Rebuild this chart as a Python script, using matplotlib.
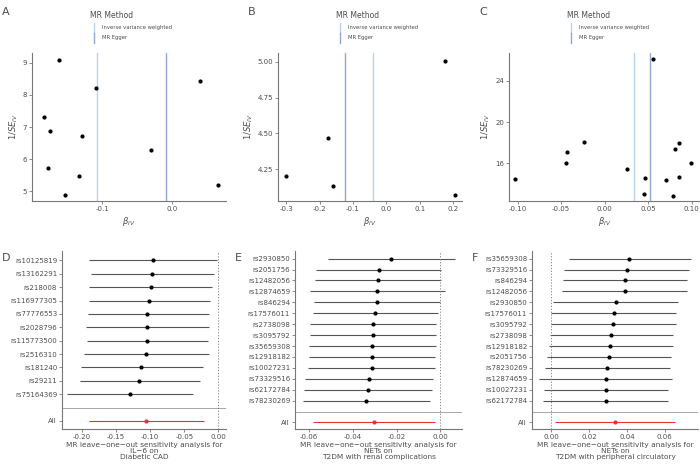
import matplotlib.pyplot as plt
from matplotlib.lines import Line2D

# ---- funnel plots (beta_IV, 1/SE_IV) ----
a_beta = [-0.162, -0.108, -0.183, -0.175, -0.128, -0.177, -0.133, -0.153, -0.030, 0.040, 0.065]
a_prec = [9.10, 8.22, 7.30, 6.87, 6.72, 5.72, 5.48, 4.88, 6.28, 8.45, 5.18]
a_ivw, a_egger = -0.107, -0.008

b_beta = [-0.300, -0.175, -0.160, 0.175, 0.205]
b_prec = [4.20, 4.47, 4.13, 5.01, 4.07]
b_ivw, b_egger = -0.040, -0.125

c_beta = [-0.103, -0.045, -0.043, -0.024, 0.026, 0.045, 0.046, 0.055, 0.071, 0.078, 0.081, 0.085, 0.085, 0.099]
c_prec = [14.5, 16.0, 17.1, 18.1, 15.5, 13.0, 14.6, 26.1, 14.4, 12.8, 17.4, 18.0, 14.7, 16.0]
c_ivw, c_egger = 0.034, 0.052

# ---- leave-one-out (top to bottom), last tuple = All ----
d_snps = ['rs10125819', 'rs13162291', 'rs218008', 'rs116977305', 'rs77776553', 'rs2028796',
          'rs115773500', 'rs2516310', 'rs181240', 'rs29211', 'rs75164369']
d_est = [-0.0956, -0.0976, -0.099, -0.102, -0.1044, -0.1044, -0.105, -0.1063, -0.113, -0.116, -0.129]
d_lo = [-0.189, -0.187, -0.189, -0.190, -0.191, -0.194, -0.192, -0.197, -0.201, -0.203, -0.221]
d_hi = [-0.0015, -0.0063, -0.0098, -0.012, -0.0146, -0.0137, -0.015, -0.014, -0.023, -0.027, -0.0366]
d_all = (-0.1063, -0.190, -0.0205)

e_snps = ['rs2930850', 'rs2051756', 'rs12482056', 'rs12874659', 'rs846294', 'rs17576011', 'rs2738098',
          'rs3095792', 'rs35659308', 'rs12918182', 'rs10027231', 'rs73329516', 'rs62172784', 'rs78230269']
e_est = [-0.0224, -0.0282, -0.0283, -0.0288, -0.0291, -0.0299, -0.0308, -0.0308, -0.0312, -0.0314,
         -0.0314, -0.0326, -0.0332, -0.034]
e_lo = [-0.0513, -0.057, -0.0574, -0.0597, -0.0579, -0.0583, -0.0594, -0.0597, -0.060, -0.0602,
        -0.0605, -0.0617, -0.0624, -0.0629]
e_hi = [0.0067, 0.0005, 0.0005, 0.0021, 0.0, -0.0012, -0.0018, -0.0018, -0.0021, -0.0023,
        -0.0023, -0.0035, -0.0038, -0.0046]
e_all = (-0.0302, -0.0582, -0.0023)

f_snps = ['rs35659308', 'rs73329516', 'rs846294', 'rs12482056', 'rs2930850', 'rs17576011', 'rs3095792',
          'rs2738098', 'rs12918182', 'rs2051756', 'rs78230269', 'rs12874659', 'rs10027231', 'rs62172784']
f_est = [0.0413, 0.0399, 0.039, 0.0388, 0.0341, 0.0331, 0.0329, 0.0315, 0.0313, 0.0306, 0.0296,
         0.029, 0.029, 0.0289]
f_lo = [0.0093, 0.007, 0.0063, 0.0059, 0.0009, 0.0002, -0.0002, -0.0007, -0.0012, -0.0023, -0.0033,
        -0.0061, -0.0038, -0.0042]
f_hi = [0.074, 0.0728, 0.0719, 0.0719, 0.067, 0.066, 0.066, 0.0642, 0.0642, 0.0633, 0.0628,
        0.064, 0.0619, 0.0619]
f_all = (0.0336, 0.0019, 0.0652)

GREY = '#4d4d4d'
IVW_C = '#b9d3ea'
EGG_C = '#8fa9d6'
W, H = 700, 466

fig = plt.figure(figsize=(7, 4.66), dpi=100)


def px_axes(x0, y0, x1, y1):
    return fig.add_axes([x0 / W, 1 - y1 / H, (x1 - x0) / W, (y1 - y0) / H])


def style(ax):
    for s in ['top', 'right']:
        ax.spines[s].set_visible(False)
    for s in ['left', 'bottom']:
        ax.spines[s].set_color('#777777')
        ax.spines[s].set_linewidth(0.8)
    ax.tick_params(labelsize=5, colors='#777777', labelcolor=GREY, length=2, width=0.6, pad=1.5)


def funnel(x0, x1, beta, prec, ivw, egger, xlim, ylim, yticks, ylabels, xticks, xlabels, label):
    ax = px_axes(x0, 53, x1, 201)
    style(ax)
    ax.axvline(ivw, color=IVW_C, lw=1)
    ax.axvline(egger, color=EGG_C, lw=1)
    ax.scatter(beta, prec, s=4, color='black', zorder=3)
    ax.set_xlim(*xlim)
    ax.set_ylim(*ylim)
    ax.set_yticks(yticks)
    ax.set_yticklabels(ylabels)
    ax.set_xticks(xticks)
    ax.set_xticklabels(xlabels)
    ax.set_xlabel(r'$\beta_{IV}$', fontsize=6, color=GREY, labelpad=2)
    ax.set_ylabel(r'$1/SE_{IV}$', fontsize=6, color=GREY, labelpad=2)
    # legend drawn above the panel
    lx = x0 + 58
    fig.text(lx / W, 1 - 16 / H, 'MR Method', fontsize=5.5, color=GREY, va='center')
    lx2 = lx + 4
    for yy, txt, col in [(28, 'Inverse variance weighted', IVW_C), (38, 'MR Egger', EGG_C)]:
        fig.add_artist(Line2D([lx2 / W, lx2 / W], [1 - (yy - 5) / H, 1 - (yy + 5) / H], color=col, lw=1))
        fig.text((lx2 + 8) / W, 1 - yy / H, txt, fontsize=3.8, color=GREY, va='center')
    fig.text((x0 - 30) / W, 1 - 12 / H, label, fontsize=8, color=GREY, va='center')
    return ax


funnel(32, 226, a_beta, a_prec, a_ivw, a_egger, (-0.2, 0.077), (4.69, 9.31),
       [5, 6, 7, 8, 9], ['5', '6', '7', '8', '9'], [-0.1, 0.0], ['-0.1', '0.0'], 'A')
funnel(278, 462, b_beta, b_prec, b_ivw, b_egger, (-0.325, 0.227), (4.026, 5.063),
       [4.25, 4.5, 4.75, 5.0], ['4.25', '4.50', '4.75', '5.00'],
       [-0.3, -0.2, -0.1, 0.0, 0.1, 0.2], ['-0.3', '-0.2', '-0.1', '0.0', '0.1', '0.2'], 'B')
funnel(509, 700, c_beta, c_prec, c_ivw, c_egger, (-0.110, 0.1096), (12.35, 26.7),
       [16, 20, 24], ['16', '20', '24'],
       [-0.1, -0.05, 0.0, 0.05, 0.1], ['-0.10', '-0.05', '0.00', '0.05', '0.10'], 'C')


def forest(x0, x1, snps, est, lo, hi, allv, xlim, xticks, title, label):
    ax = px_axes(x0, 251, x1, 429)
    style(ax)
    n = len(snps)
    ys = list(range(n + 1, 1, -1))
    ax.hlines(ys, lo, hi, color='#555555', lw=0.8)
    ax.scatter(est, ys, s=4, color='black', zorder=3)
    ax.hlines([0], [allv[1]], [allv[2]], color='#e8322d', lw=0.8)
    ax.scatter([allv[0]], [0], s=4, color='#e8322d', zorder=3)
    ax.axhline(1, color='#999999', lw=0.6)
    ax.axvline(0, color='#777777', lw=0.6, ls=(0, (1.5, 2)))
    ax.set_yticks(ys + [0])
    ax.set_yticklabels(snps + ['All'])
    ax.set_ylim(-0.6, n + 1.7)
    ax.set_xlim(*xlim)
    ax.set_xticks(xticks)
    ax.set_xticklabels(['{:.2f}'.format(t) for t in xticks])
    ax.set_xlabel(title, fontsize=5.3, color=GREY, labelpad=1.5, linespacing=1.0)
    fig.text((x0 - 60) / W, 1 - 258 / H, label, fontsize=8, color=GREY, va='center')


forest(62, 226, d_snps, d_est, d_lo, d_hi, d_all, (-0.229, 0.011),
       [-0.20, -0.15, -0.10, -0.05, 0.00],
       'MR leave\u2212one\u2212out sensitivity analysis for\nIL\u22126 on\nDiabetic CAD', 'D')
forest(295, 462, e_snps, e_est, e_lo, e_hi, e_all, (-0.0664, 0.0099),
       [-0.06, -0.04, -0.02, 0.00],
       'MR leave\u2212one\u2212out sensitivity analysis for\nNETs on\nT2DM with renal complications', 'E')
forest(532, 698, f_snps, f_est, f_lo, f_hi, f_all, (-0.00997, 0.0775),
       [0.00, 0.02, 0.04, 0.06],
       'MR leave\u2212one\u2212out sensitivity analysis for\nNETs on\nT2DM with peripheral circulatory', 'F')

fig.savefig('out.png', dpi=100)
